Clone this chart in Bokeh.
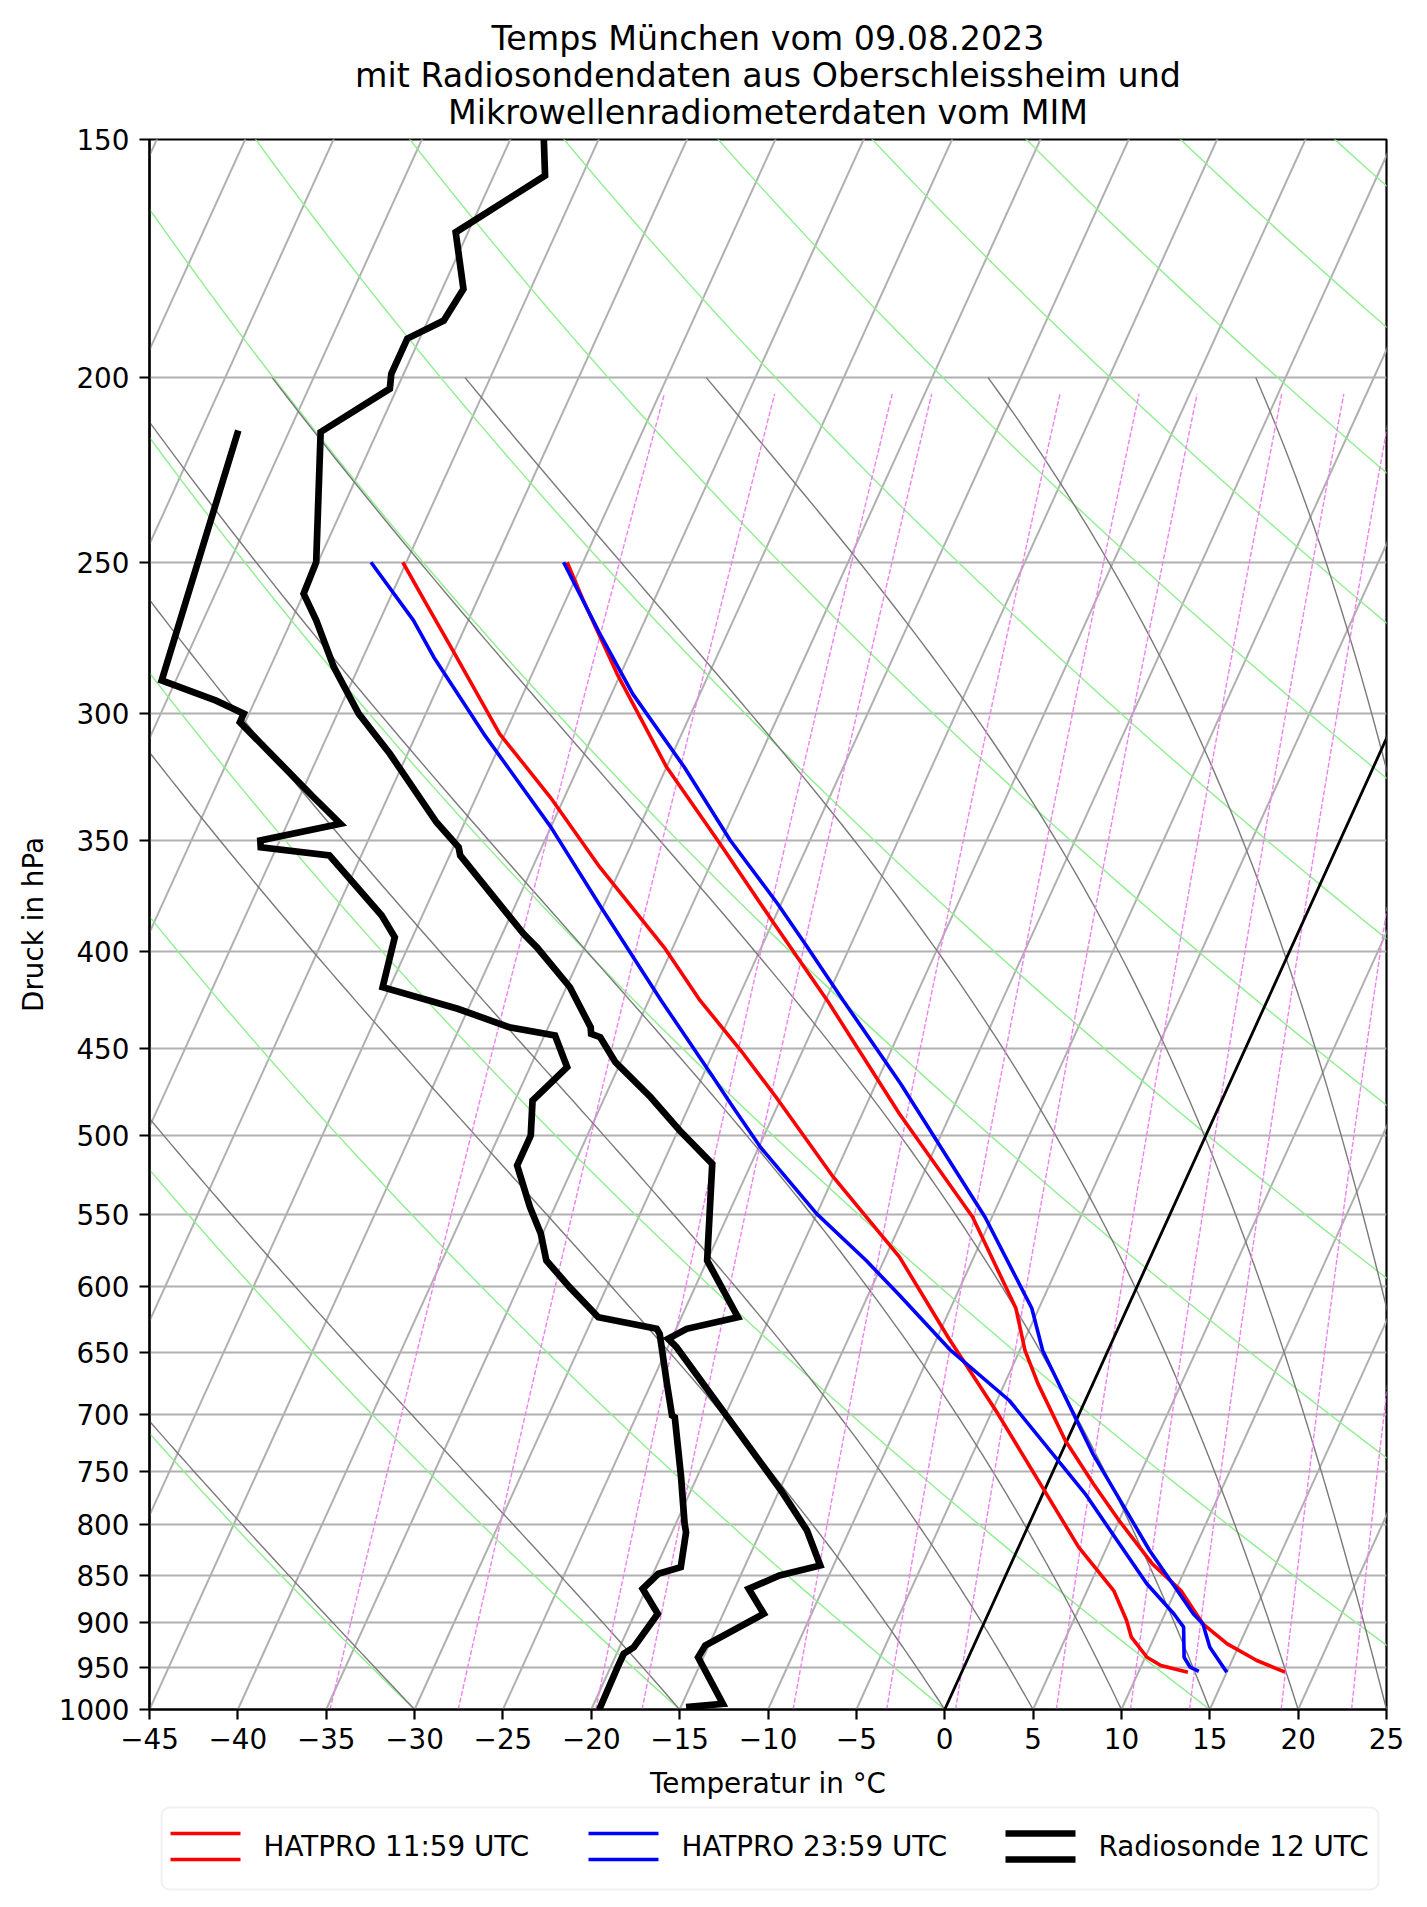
import numpy as np
from bokeh.plotting import figure
from bokeh.models import Range1d, FixedTicker, PrintfTickFormatter, BoxAnnotation, Title
from bokeh.layouts import column
from bokeh.core.properties import value
from bokeh.embed import file_html
from bokeh.resources import INLINE

FONT = "DejaVu Sans"

# ---------------- data (pressure in hPa, temperature in degC) ----------------
title_lines = ["Temps München vom 09.08.2023",
               "mit Radiosondendaten aus Oberschleissheim und",
               "Mikrowellenradiometerdaten vom MIM"]
x_ticks = list(range(-45, 30, 5))
p_ticks = [150, 200, 250, 300, 350, 400, 450, 500, 550, 600, 650, 700, 750,
           800, 850, 900, 950, 1000]

rs_T_p = [150, 156.7, 167.8, 179.7, 186.7, 190.8, 199.1, 202.7, 213.6, 250.0,
          259.7, 268.2, 283.8, 300.2, 315.1, 342.3, 352.8, 356.3, 391.7, 398.1,
          417.8, 438.5, 442.0, 443.8, 457.4, 477.2, 496.8, 517.2, 581.3, 622.5,
          631.3, 638.9, 645.5, 767.5, 805.5, 840.3, 850.5, 864.3, 890.8, 925.6,
          938.8, 993.1, 997.0]
rs_T = [-63.1, -62.1, -65.7, -63.8, -64.1, -65.7, -65.7, -65.4, -68.2, -65.1,
        -65.0, -63.6, -61.4, -58.8, -56.0, -51.6, -49.7, -49.4, -43.8, -42.7,
        -39.8, -37.6, -37.4, -36.8, -35.3, -32.4, -29.9, -27.2, -25.0, -21.8,
        -24.4, -25.2, -24.5, -14.9, -12.4, -10.75, -12.8, -14.2, -12.7, -15.2,
        -15.3, -12.7, -14.7]

rs_Td_p = [213.2, 288.4, 295.5, 300.2, 303.3, 332.1, 342.9, 349.9, 352.8, 356.3,
           383.1, 393.3, 417.8, 428.8, 438.5, 442.9, 460.2, 479.1, 499.8, 518.2,
           545.0, 562.8, 581.3, 600.3, 622.5, 631.3, 635.1, 674.7, 701.0, 702.4,
           755.2, 799.0, 807.2, 842.0, 848.8, 864.3, 890.8, 927.5, 934.9, 950.2,
           1000]
rs_Td = [-72.9, -70.8, -67.2, -65.3, -65.3, -59.2, -57.0, -61.1, -60.9, -56.8,
         -52.3, -51.0, -50.4, -45.6, -42.2, -39.4, -37.9, -39.0, -38.2, -38.2,
         -36.4, -35.1, -34.1, -32.1, -29.7, -26.1, -25.8, -24.1, -23.0, -22.8,
         -20.9, -19.5, -19.2, -18.6, -19.7, -20.2, -18.7, -19.2, -19.6, -19.6,
         -19.55]

h12_T_p = [250, 261.8, 286.1, 320.2, 351.3, 384.6, 424.5, 486.8, 551.5, 615.8,
           648.0, 674.7, 722.5, 761.3, 795.8, 838.6, 866.1, 901.6, 923.7, 942.5,
           955.9]
h12_T = [-50.9, -49.0, -45.2, -40.0, -35.0, -30.2, -24.9, -17.9, -11.1, -6.3,
         -4.7, -3.1, -0.1, 2.6, 5.0, 8.0, 10.3, 12.4, 14.3, 16.4, 18.3]

h12_Td_p = [250, 261.8, 278.1, 307.6, 332.1, 361.4, 398.1, 424.5, 451.0, 477.2,
            525.6, 578.9, 638.9, 699.6, 764.4, 821.9, 866.1, 898.0, 916.3, 938.8,
            948.2, 955.9]
h12_Td = [-60.2, -58.0, -55.1, -50.3, -45.8, -41.2, -35.5, -32.1, -28.5, -25.3,
          -20.0, -14.2, -9.3, -4.6, -0.2, 3.4, 6.5, 8.0, 8.7, 10.1, 11.1, 12.8]

h24_T_p = [250, 272.6, 293.1, 320.2, 349.9, 377.7, 397.3, 424.5, 469.5, 551.5,
           615.8, 648.0, 734.2, 825.2, 866.1, 890.8, 901.6, 927.5, 955.9]
h24_T = [-51.1, -47.2, -43.8, -39.0, -34.5, -30.2, -27.5, -24.0, -18.6, -10.4,
         -5.4, -3.7, 1.8, 7.5, 10.1, 11.6, 12.4, 13.4, 15.0]

h24_Td_p = [250, 268.2, 280.4, 307.6, 344.3, 379.3, 424.5, 463.9, 481.0, 506.9,
            549.4, 581.3, 606.4, 648.0, 688.4, 770.6, 859.1, 890.8, 905.3, 938.8,
            950.2, 955.1]
h24_Td = [-62.0, -58.1, -56.0, -51.2, -45.0, -40.1, -34.3, -29.6, -27.7, -24.9,
          -20.0, -16.0, -13.2, -8.9, -4.3, 2.4, 8.2, 10.5, 11.4, 12.2, 12.8, 13.4]

isotherm_T = list(range(-85, 30, 5))
dry_theta = list(range(-45, 181, 15))
moist_t0 = [-45, -30, -15, 0, 5, 10, 15, 20, 25, 30, 35, 40]
mixing_w = [0.0002, 0.0004, 0.0008, 0.001, 0.002, 0.003, 0.004, 0.006, 0.008,
            0.010, 0.014, 0.018]

legend_labels = ["HATPRO 11:59 UTC", "HATPRO 23:59 UTC", "Radiosonde 12 UTC"]
legend_colors = ["red", "blue", "black"]

# ---------------- skew-T projection ----------------
XMIN, XMAX = -45, 25
PBOT, PTOP = 1000.0, 150.0
SKEW = (XMAX - XMIN) * np.tan(np.radians(30))
LOGSPAN = np.log10(PBOT / PTOP)


def sx(T, p):
    T = np.asarray(T, dtype=float)
    p = np.asarray(p, dtype=float)
    return T + SKEW * np.log10(PBOT / p) / LOGSPAN


Rd, Cp, Lv, EPS = 287.04749, 1004.6662, 2.50084e6, 0.6219569


def es_hpa(Tk):
    tc = Tk - 273.15
    return 6.112 * np.exp(17.67 * tc / (tc + 243.5))


def dTdp(pp, Tk):
    e = es_hpa(Tk)
    r = EPS * e / (pp - e)
    return (Rd * Tk + Lv * r) / (Cp + Lv * Lv * r * EPS / (Rd * Tk * Tk)) / pp


def moist(t0, parr):
    Tk = t0 + 273.15
    out = [Tk]
    for i in range(len(parr) - 1):
        h = parr[i + 1] - parr[i]
        pp = parr[i]
        k1 = dTdp(pp, Tk)
        k2 = dTdp(pp + h / 2, Tk + h / 2 * k1)
        k3 = dTdp(pp + h / 2, Tk + h / 2 * k2)
        k4 = dTdp(pp + h, Tk + h * k3)
        Tk = Tk + h / 6 * (k1 + 2 * k2 + 2 * k3 + k4)
        out.append(Tk)
    return np.array(out) - 273.15


# ---------------- layout constants ----------------
BL, BR, FW = 149, 25, 1237
BT, FH, BB = 139, 1570, 91
LEG_H = 91
TICK_FS = "27.8px"
TITLE_FS = "33.3px"

# ---------------- main figure ----------------
p = figure(frame_width=FW, frame_height=FH, title=None,
           x_range=Range1d(XMIN, XMAX), y_range=Range1d(PBOT, PTOP),
           y_axis_type="log", output_backend="svg", toolbar_location=None,
           min_border_left=BL, min_border_right=BR, min_border_top=BT,
           min_border_bottom=BB)
p.background_fill_color = "white"
p.border_fill_color = "white"
p.outline_line_color = "black"
p.outline_line_width = 2.2

title_standoff = [16, -25, 18]
for line, so in zip(reversed(title_lines), title_standoff):
    p.add_layout(Title(text=line, align="center", text_font=FONT,
                       text_font_size=TITLE_FS, text_font_style="normal",
                       text_color="black", standoff=so), "above")

xt = FixedTicker(ticks=x_ticks, minor_ticks=[])
yt = FixedTicker(ticks=p_ticks, minor_ticks=[])
p.xaxis.ticker = xt
p.yaxis.ticker = yt
p.ygrid.ticker = yt
p.xaxis.major_label_overrides = {t: (f"\u2212{abs(t)}" if t < 0 else str(t)) for t in x_ticks}
p.yaxis.formatter = PrintfTickFormatter(format="%d")
for ax in (p.xaxis, p.yaxis):
    ax.major_label_text_font = FONT
    ax.major_label_text_font_size = TICK_FS
    ax.major_label_text_color = "black"
    ax.axis_label_text_font = FONT
    ax.axis_label_text_font_size = TICK_FS
    ax.axis_label_text_font_style = "normal"
    ax.axis_label_text_color = "black"
    ax.major_tick_out = 10
    ax.major_tick_in = 0
    ax.major_tick_line_width = 2.2
    ax.major_tick_line_color = "black"
    ax.minor_tick_line_color = None
    ax.axis_line_width = 2.2
    ax.axis_line_color = "black"
p.xaxis.major_label_standoff = 8
p.yaxis.major_label_standoff = 10
p.xaxis.axis_label_standoff = 15
p.yaxis.axis_label_standoff = 6
p.xaxis.axis_label = "Temperatur in °C"
p.yaxis.axis_label = "Druck in hPa"

p.xgrid.visible = False
p.ygrid.grid_line_color = "#b0b0b0"
p.ygrid.grid_line_width = 2.0

# isotherms
iso_p = [PBOT, 100.0]
p.multi_line([list(sx([t, t], iso_p)) for t in isotherm_T],
             [iso_p for _ in isotherm_T], line_color="#b0b0b0", line_width=2.0)

# dry adiabats
dp = np.logspace(np.log10(1000), np.log10(100), 80)
dry_xs = [list(sx((th + 273.15) * (dp / 1000.0) ** (Rd / Cp) - 273.15, dp)) for th in dry_theta]
p.multi_line(dry_xs, [list(dp) for _ in dry_theta], line_color="#90ee90", line_width=1.4)

# moist adiabats
mp = np.linspace(1000, 200, 161)
moist_xs = [list(sx(moist(t0, mp), mp)) for t0 in moist_t0]
p.multi_line(moist_xs, [list(mp) for _ in moist_t0], line_color="#7a7a7a", line_width=1.4)

# mixing ratio lines
wp = np.arange(1000, 200, -4.0)
for w in mixing_w:
    e = wp * w / (EPS + w)
    lg = np.log(e / 6.112)
    td = 243.5 * lg / (17.67 - lg)
    p.line(sx(td, wp), wp, line_color="#ee82ee", line_width=1.4, line_dash="5 2")

# 0 degC isotherm
p.line(sx([0, 0], iso_p), iso_p, line_color="black", line_width=2.8)

# radiosonde
p.line(sx(rs_T, rs_T_p), rs_T_p, line_color="black", line_width=6.7, line_join="miter")
p.line(sx(rs_Td, rs_Td_p), rs_Td_p, line_color="black", line_width=6.7, line_join="miter")

# HATPRO
for T, P, c in ((h12_T, h12_T_p, "red"), (h12_Td, h12_Td_p, "red"),
                (h24_T, h24_T_p, "blue"), (h24_Td, h24_Td_p, "blue")):
    p.line(sx(T, P), P, line_color=c, line_width=3.6)

# ---------------- legend strip (pixel-aligned with the main frame) ----------------
leg = figure(frame_width=FW, frame_height=LEG_H, title=None,
             x_range=Range1d(BL, BL + FW), y_range=Range1d(0, LEG_H),
             output_backend="svg", toolbar_location=None,
             min_border_left=BL, min_border_right=BR, min_border_top=0,
             min_border_bottom=0, x_axis_location=None, y_axis_location=None)
leg.grid.visible = False
leg.outline_line_color = None
leg.background_fill_color = "white"
leg.border_fill_color = "white"
leg.add_layout(BoxAnnotation(left=161, right=1378, bottom=4, top=86, level="underlay",
                             fill_color="white", fill_alpha=1.0,
                             line_color="#cccccc", line_width=2, border_radius=8))
item_x = [170, 588, 1005]
item_w = [3.6, 3.6, 6.7]
for x0, col, lw in zip(item_x, legend_colors, item_w):
    leg.segment(x0=[x0, x0], y0=[60, 34], x1=[x0 + 70, x0 + 70], y1=[60, 34],
                line_color=col, line_width=lw)
leg.text(x=[x + 93 for x in item_x], y=[47] * 3, text=legend_labels,
         text_baseline="middle", text_align="left",
         text_font=value(FONT), text_font_size=TICK_FS, text_color="black")

layout = column(p, leg)
open("out.html", "w").write(file_html(layout, INLINE, "Skew-T"))
